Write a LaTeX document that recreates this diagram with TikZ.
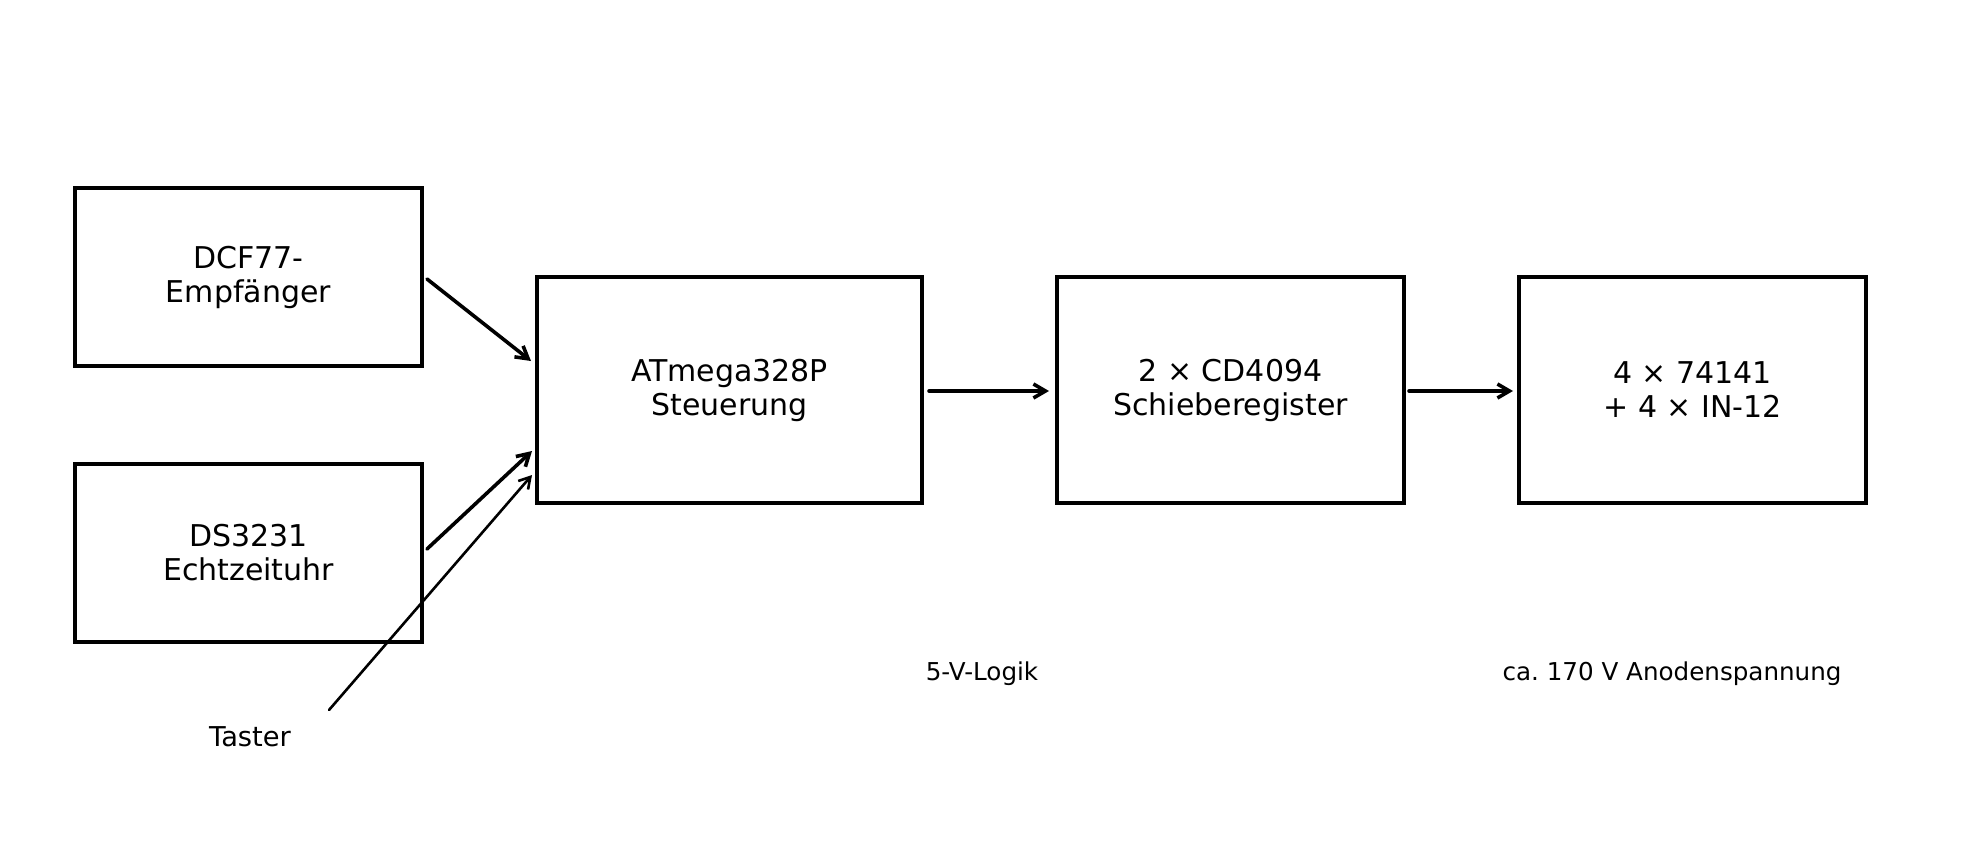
\documentclass[tikz,border=0pt]{standalone}
\usepackage{fontspec}
\setmainfont{DejaVu Sans}
\usetikzlibrary{arrows.meta,calc}
\begin{document}
\frenchspacing
\begin{tikzpicture}[x=1pt,y=-1pt,
  blk/.style={draw, line width=4pt, minimum width=347pt, minimum height=178pt,
    inner sep=0pt, align=center, font=\fontsize{30}{34}\selectfont},
  tall/.style={minimum height=226pt},
  arr/.style={line width=3.6pt, line cap=round, -{Straight Barb[length=12pt,width=14pt,line width=3.6pt]}},
  thinarr/.style={line width=2.6pt, line cap=round, -{Straight Barb[length=11pt,width=13pt,line width=2.6pt]}},
  lbl/.style={inner sep=0pt, font=\fontsize{27.3}{32}\selectfont},
  note/.style={inner sep=0pt, font=\fontsize{24.6}{29}\selectfont}]
\path[use as bounding box, fill=white] (0,0) rectangle (1961,846);

\node[blk] (dcf) at (248.5,277) {DCF77-\\Empfänger};
\node[blk] (rtc) at (248.5,552.5) {DS3231\\Echtzeituhr};
\node[blk, tall, minimum width=385pt] (mcu) at (729.5,390) {ATmega328P\\Steuerung};
\node[blk, tall] (sr) at (1230.5,390) {2 × CD4094\\Schieberegister};
\node[blk, tall] (nix) at (1692.5,390) {4 × 74141\\+ 4 × IN-12};

\node[lbl] (taster) at (250,737) {Taster};
\node[note] (logic) at (982,674) {5-V-Logik};
\node[note] (hv) at (1672,674) {ca. 170 V Anodenspannung};

\coordinate (tstart) at (329,710);

\draw[arr] ($(dcf.east)+(3,2)$) -- ($(mcu.west)+(-4,-29)$);
\draw[arr] ($(rtc.east)+(3,-3.5)$) -- ($(mcu.west)+(-3,61)$);
\draw[thinarr] (tstart) -- ($(mcu.west)+(-3,85)$);
\draw[arr] ($(mcu.east)+(5,1)$) -- ($(sr.west)+(-6,1)$);
\draw[arr] ($(sr.east)+(3,1)$) -- ($(nix.west)+(-4,1)$);
\end{tikzpicture}
\end{document}
